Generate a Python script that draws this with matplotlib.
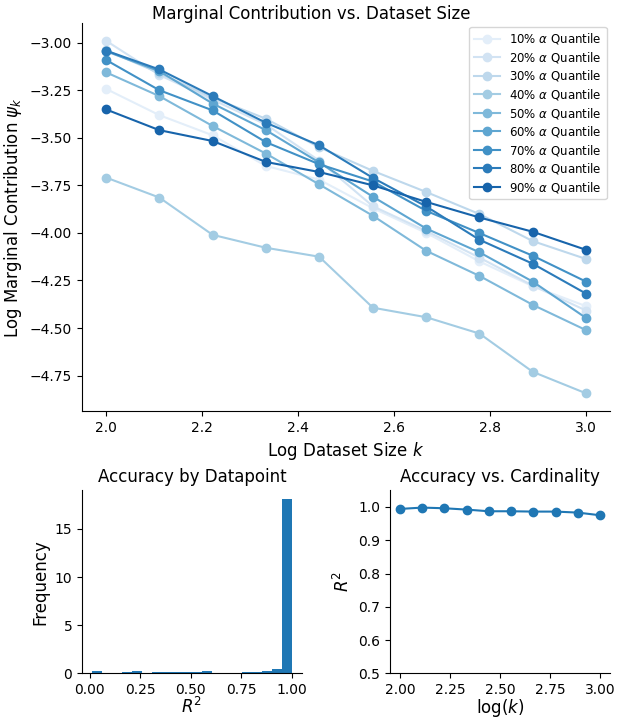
import numpy as np
import matplotlib
matplotlib.use('Agg')
import matplotlib.pyplot as plt

# log dataset size k
log_k = [2.0, 2.111, 2.222, 2.333, 2.444, 2.556, 2.667, 2.778, 2.889, 3.0]

quantiles = ['10%', '20%', '30%', '40%', '50%', '60%', '70%', '80%', '90%']
q10 = [-3.243, -3.381, -3.487, -3.648, -3.72, -3.87, -4.00, -4.15, -4.28, -4.385]
q20 = [-2.99, -3.17, -3.30, -3.43, -3.62, -3.86, -3.99, -4.13, -4.277, -4.408]
q30 = [-3.04, -3.16, -3.29, -3.40, -3.55, -3.674, -3.785, -3.901, -4.043, -4.137]
q40 = [-3.709, -3.814, -4.01, -4.078, -4.125, -4.393, -4.443, -4.529, -4.73, -4.843]
q50 = [-3.156, -3.281, -3.438, -3.583, -3.745, -3.91, -4.094, -4.226, -4.378, -4.511]
q60 = [-3.045, -3.15, -3.32, -3.46, -3.63, -3.81, -3.977, -4.102, -4.256, -4.447]
q70 = [-3.091, -3.25, -3.356, -3.523, -3.639, -3.73, -3.884, -4.001, -4.12, -4.256]
q80 = [-3.042, -3.141, -3.281, -3.421, -3.54, -3.711, -3.861, -4.036, -4.162, -4.319]
q90 = [-3.351, -3.46, -3.517, -3.627, -3.68, -3.75, -3.837, -3.919, -3.994, -4.089]
series = [q10, q20, q30, q40, q50, q60, q70, q80, q90]

# histogram of per-datapoint R^2 (bin edges + heights)
hist_edges = np.linspace(0.012, 1.0, 21)
hist_heights = [0.2, 0, 0, 0.1, 0.2, 0, 0.1, 0.1, 0.1, 0.1, 0.1, 0.2,
                0, 0, 0, 0.1, 0.1, 0.3, 0.5, 18.1]

# R^2 vs cardinality
r2_card = [0.994, 0.998, 0.996, 0.992, 0.987, 0.987, 0.986, 0.986, 0.983, 0.975]

colors = plt.cm.Blues(np.linspace(0.1, 0.8, 9))

fig = plt.figure(figsize=(6.22, 7.21), dpi=100)
ax = fig.add_axes([0.1318, 0.43, 0.849, 0.538])
for q, ys, c in zip(quantiles, series, colors):
    ax.plot(log_k, ys, 'o-', color=c, lw=1.5, ms=6, label=r'%s $\alpha$ Quantile' % q)
ax.set_xlabel(r'Log Dataset Size $k$', fontsize=12)
ax.set_ylabel(r'Log Marginal Contribution $\psi_k$', fontsize=12)
ax.set_yticks([-3.0, -3.25, -3.5, -3.75, -4.0, -4.25, -4.5, -4.75])
ax.tick_params(labelsize=10)
ax.legend(loc='upper right', fontsize=8.5, labelspacing=0.3, handlelength=2.2,
          borderaxespad=0.3)
ax.spines['top'].set_visible(False)
ax.spines['right'].set_visible(False)
fig.suptitle('Marginal Contribution vs. Dataset Size', fontsize=12, y=0.993)

ax2 = fig.add_axes([0.1318, 0.0660, 0.3537, 0.254])
ax2.hist(hist_edges[:-1], bins=hist_edges, weights=hist_heights, color='#1f77b4')
ax2.set_title('Accuracy by Datapoint', fontsize=12)
ax2.set_xlabel(r'$R^2$', fontsize=12, labelpad=0)
ax2.set_ylabel('Frequency', fontsize=12)
ax2.set_xticks([0.0, 0.25, 0.5, 0.75, 1.0])
ax2.set_yticks([0, 5, 10, 15])
ax2.tick_params(labelsize=10)
ax2.spines['top'].set_visible(False)
ax2.spines['right'].set_visible(False)

ax3 = fig.add_axes([0.627, 0.0660, 0.3537, 0.254])
ax3.plot(log_k, r2_card, 'o-', color='#1f77b4', lw=1.5, ms=6)
ax3.set_ylim(0.5, 1.05)
ax3.set_title('Accuracy vs. Cardinality', fontsize=12)
ax3.set_xlabel(r'log($k$)', fontsize=12, labelpad=0)
ax3.set_ylabel(r'$R^2$', fontsize=12)
ax3.set_xticks([2.0, 2.25, 2.5, 2.75, 3.0])
ax3.tick_params(labelsize=10)
ax3.spines['top'].set_visible(False)
ax3.spines['right'].set_visible(False)

fig.savefig('out.png', dpi=100)
